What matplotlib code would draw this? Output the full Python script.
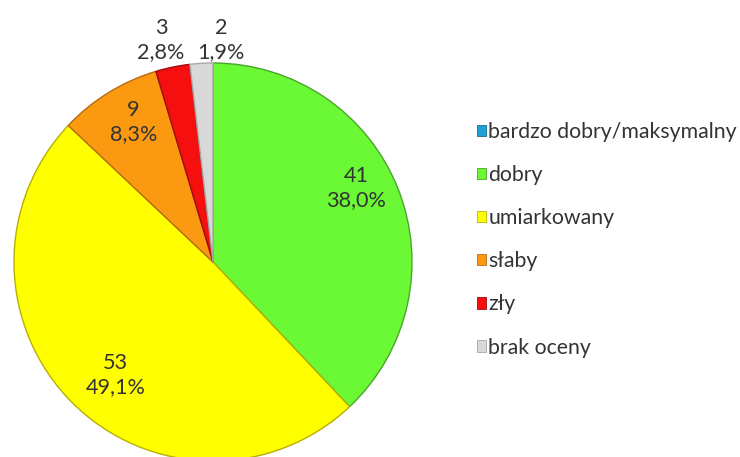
import matplotlib.pyplot as plt
from matplotlib.patches import Patch
import numpy as np

# oceny stanu i liczba jednolitych części wód
categories = ["bardzo dobry/maksymalny", "dobry", "umiarkowany", "słaby", "zły", "brak oceny"]
counts = [0, 41, 53, 9, 3, 2]
colors = ["#1f9fd6", "#6cf935", "#ffff00", "#fb9a10", "#f50f0f", "#d8d8d8"]
edges = ["#1a6f95", "#4aa62a", "#b8b000", "#b86a10", "#a00b0b", "#a8a8a8"]

# położenie etykiet: promień i przesunięcie kąta względem środka wycinka
label_r = [0.0, 0.81, 0.75, 0.81, 1.146, 1.116]
label_dtheta = [0, 5.7, 4.4, -2, 1.5, -5.4]

plt.rcParams['font.family'] = ['Lato', 'DejaVu Sans']

fig = plt.figure(figsize=(7.4, 4.57), dpi=100)
cx, cy, rad = 213, 262, 199
ax = fig.add_axes([(cx - rad) / 740, (457 - cy - rad) / 457, 2 * rad / 740, 2 * rad / 457])

wedges, _ = ax.pie(counts, colors=colors, startangle=90, counterclock=False,
                   radius=1.0, wedgeprops=dict(linewidth=1.0))
for w, ec in zip(wedges, edges):
    w.set_edgecolor(ec)

ax.set_xlim(-1, 1)
ax.set_ylim(-1, 1)
ax.set_aspect('equal')
ax.axis('off')

total = sum(counts)
start = 90.0
for i, n in enumerate(counts):
    span = n / total * 360
    mid = start - span / 2
    start -= span
    if n == 0:
        continue
    ang = np.deg2rad(mid + label_dtheta[i])
    pct = f"{n / total * 100:.1f}".replace(".", ",") + "%"
    ax.text(label_r[i] * np.cos(ang), label_r[i] * np.sin(ang), f"{n}\n{pct}",
            ha='center', va='center', fontsize=15.6, color="#333333",
            linespacing=1.25, clip_on=False)

handles = [Patch(facecolor=c, edgecolor=e, linewidth=0.6) for c, e in zip(colors, edges)]
fig.legend(handles, categories, loc='upper left', bbox_to_anchor=(0.624, 0.766),
           frameon=False, fontsize=15.3, handlelength=0.45, handleheight=0.45,
           handletextpad=0.1, labelspacing=1.09, labelcolor="#333333",
           borderaxespad=0.3)

fig.savefig("out.png", dpi=100)
